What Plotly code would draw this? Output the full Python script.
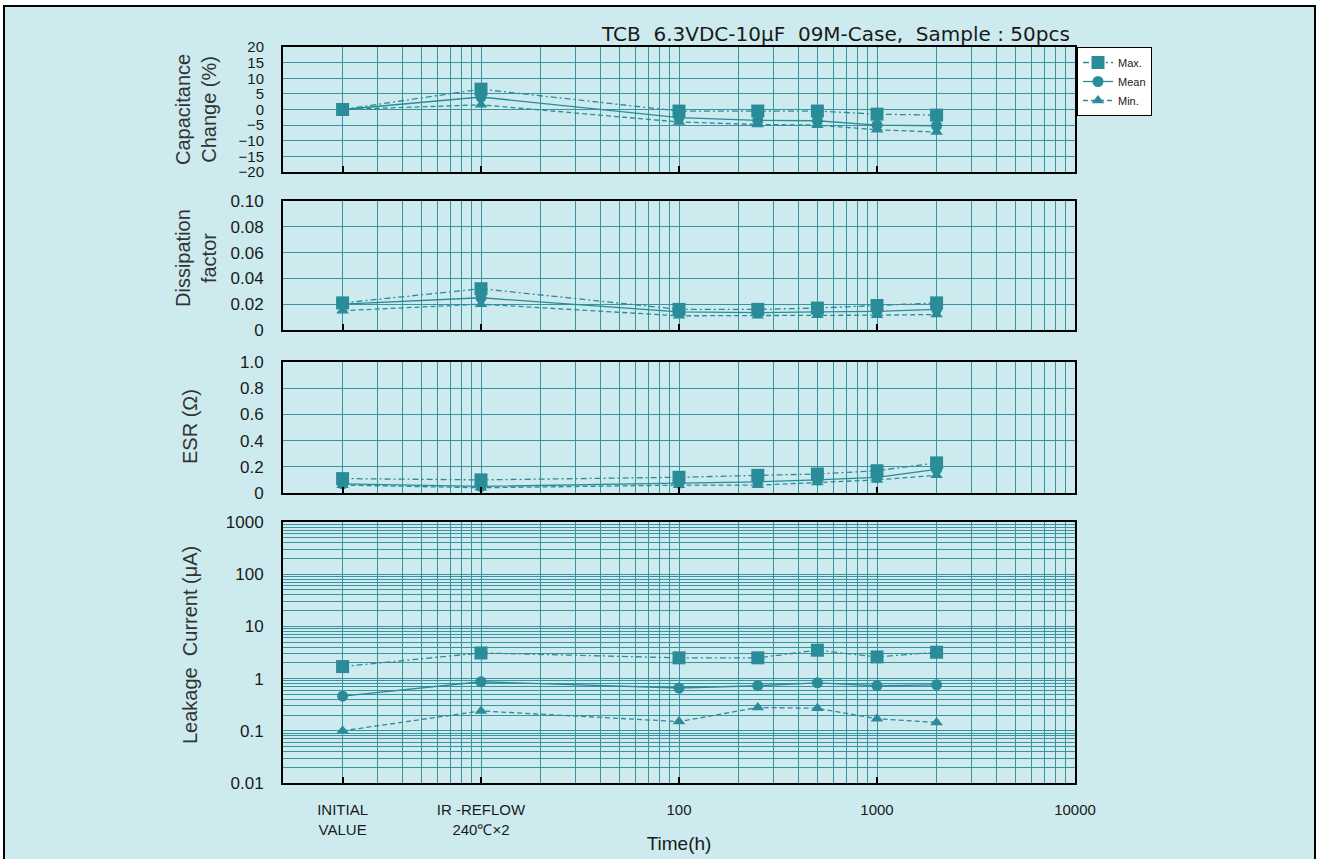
import plotly.graph_objects as go

W, H = 1326, 859

# Measurement points (time axis is logarithmic; the first two are fixed steps)
x_pos = [2, 10, 100, 250, 500, 1000, 2000]

# Capacitance change (%)
cap_max = [0.0, 6.5, -0.5, -0.5, -0.5, -1.5, -1.8]
cap_mean = [0.0, 4.0, -2.6, -3.5, -3.6, -5.0, -5.2]
cap_min = [0.0, 1.5, -4.0, -4.8, -5.0, -6.5, -7.2]

# Dissipation factor
df_max = [0.021, 0.032, 0.016, 0.016, 0.017, 0.019, 0.021]
df_mean = [0.020, 0.025, 0.014, 0.0135, 0.014, 0.0145, 0.016]
df_min = [0.015, 0.020, 0.011, 0.011, 0.0115, 0.0115, 0.012]

# ESR (ohm)
esr_max = [0.11, 0.10, 0.12, 0.135, 0.145, 0.17, 0.23]
esr_mean = [0.07, 0.05, 0.075, 0.085, 0.10, 0.12, 0.18]
esr_min = [0.06, 0.04, 0.06, 0.06, 0.08, 0.10, 0.135]

# Leakage current (uA)
lc_max = [1.7, 3.1, 2.5, 2.5, 3.5, 2.6, 3.2]
lc_mean = [0.46, 0.87, 0.66, 0.73, 0.83, 0.73, 0.76]
lc_min = [0.10, 0.24, 0.15, 0.28, 0.27, 0.17, 0.145]

# Time axis labels
x_tickvals = [2, 10, 100, 1000, 10000]
x_ticktext = ["INITIAL<br>VALUE", "IR -REFLOW<br>240℃×2", "100", "1000", "10000"]

series_names = ["Max.", "Mean", "Min."]

TEAL = "#2a8c98"
GRID = "#3a949f"
BG = "#cdebef"

x_minor = [m * 10 ** e for e in range(0, 4) for m in range(2, 10)]
y_minor_log = [m * 10 ** e for e in range(-2, 3) for m in range(2, 10)]

styles = [
    dict(dash="6px,3px,2px,3px", symbol="square", size=13),
    dict(dash="solid", symbol="circle", size=11),
    dict(dash="5px,3px", symbol="triangle-up", size=11),
]

panels = [
    (cap_max, cap_mean, cap_min),
    (df_max, df_mean, df_min),
    (esr_max, esr_mean, esr_min),
    (lc_max, lc_mean, lc_min),
]

fig = go.Figure()
for p, data in enumerate(panels):
    for s, (name, vals) in enumerate(zip(series_names, data)):
        st = styles[s]
        fig.add_trace(go.Scatter(
            x=x_pos, y=vals, name=name, mode="lines+markers",
            xaxis="x" if p == 0 else f"x{p+1}",
            yaxis="y" if p == 0 else f"y{p+1}",
            line=dict(color=TEAL, width=1.3, dash=st["dash"]),
            marker=dict(color=TEAL, symbol=st["symbol"], size=st["size"]),
            legendgroup=name, showlegend=(p == 0),
        ))


def fx(px):
    return px / W


def fy(py):
    return 1 - py / H


def ydom(top, bot):
    return [fy(bot), fy(top)]


xdom = [fx(283), fx(1075)]
ydoms = [ydom(47, 172), ydom(201, 330), ydom(362, 493), ydom(522, 783)]

tick_font = dict(family="Liberation Sans, Arial, sans-serif", size=17, color="#1a1a1a")
cap_tick_font = dict(family="Liberation Sans, Arial, sans-serif", size=15, color="#1a1a1a")
x_font = dict(family="Liberation Sans Narrow, Arial Narrow, Liberation Sans, sans-serif",
              size=15, color="#1a1a1a")

y_specs = [
    dict(type="linear", range=[-20, 20], tickvals=list(range(-20, 21, 5)),
         ticktext=[str(v).replace("-", "−") for v in range(-20, 21, 5)]),
    dict(type="linear", range=[0, 0.1], tickvals=[0, 0.02, 0.04, 0.06, 0.08, 0.10],
         ticktext=["0", "0.02", "0.04", "0.06", "0.08", "0.10"]),
    dict(type="linear", range=[0, 1.0], tickvals=[0, 0.2, 0.4, 0.6, 0.8, 1.0],
         ticktext=["0", "0.2", "0.4", "0.6", "0.8", "1.0"]),
    dict(type="log", range=[-2, 3], tickvals=[0.01, 0.1, 1, 10, 100, 1000],
         ticktext=["0.01", "0.1", "1", "10", "100", "1000"]),
]

layout = dict(
    width=W, height=H,
    margin=dict(l=0, r=0, t=0, b=0, autoexpand=False),
    paper_bgcolor="white",
    plot_bgcolor="white",
    showlegend=True,
    legend=dict(x=fx(1077), y=fy(47), xanchor="left", yanchor="top",
                bgcolor="white", bordercolor="black", borderwidth=1,
                font=dict(family="Liberation Sans, Arial, sans-serif", size=11, color="#1a1a1a"),
                tracegroupgap=0, itemwidth=30),
)

for p in range(4):
    xk = "xaxis" if p == 0 else f"xaxis{p+1}"
    yk = "yaxis" if p == 0 else f"yaxis{p+1}"
    xa = "x" if p == 0 else f"x{p+1}"
    ya = "y" if p == 0 else f"y{p+1}"
    layout[xk] = dict(
        type="log", range=[0, 4], domain=xdom, anchor=ya, automargin=False,
        tickvals=x_tickvals, ticktext=x_ticktext,
        showticklabels=(p == 3), tickfont=x_font, ticklabelstandoff=12,
        ticks="inside", ticklen=6, tickcolor="black", tickwidth=2,
        showgrid=True, gridcolor=GRID, gridwidth=1.3,
        minor=dict(tickvals=x_minor, showgrid=True, gridcolor=GRID, gridwidth=1.3, ticks=""),
        showline=True, linecolor="black", linewidth=2, mirror=True,
        zeroline=False,
    )
    ys = y_specs[p]
    yax = dict(
        type=ys["type"], range=ys["range"], domain=ydoms[p], anchor=xa, automargin=False,
        tickvals=ys["tickvals"], ticktext=ys["ticktext"],
        tickfont=cap_tick_font if p == 0 else tick_font,
        ticks="", ticklabelstandoff=14,
        showgrid=True, gridcolor=GRID, gridwidth=1.3,
        showline=True, linecolor="black", linewidth=2, mirror=True,
        zeroline=False,
    )
    if ys["type"] == "log":
        yax["minor"] = dict(tickvals=y_minor_log, showgrid=True, gridcolor=GRID,
                            gridwidth=1.3, ticks="")
    layout[yk] = yax

layout["xaxis4"]["title"] = dict(text="Time(h)", standoff=0,
                                 font=dict(family="Liberation Sans Narrow, Arial Narrow, Liberation Sans, sans-serif",
                                           size=19, color="#1a1a1a"))

fig.update_layout(**layout)

# Framed light-cyan panel behind the charts
fig.add_shape(type="rect", xref="paper", yref="paper",
              x0=fx(4), x1=fx(1315), y0=-0.02, y1=fy(6),
              fillcolor=BG, line=dict(color="black", width=2), layer="below")

title_font = dict(family="Liberation Sans, Arial, sans-serif", size=20, color="#333333")
ytitles = [
    ("Capacitance<br>Change (%)", 196, 110),
    ("Dissipation<br>factor", 196, 258),
    ("ESR (Ω)", 190, 427),
    ("Leakage  Current (μA)", 190, 645),
]
for text, px, py in ytitles:
    fig.add_annotation(text=text, x=fx(px), y=fy(py), xref="paper", yref="paper",
                       textangle=-90, showarrow=False, font=title_font,
                       xanchor="center", yanchor="middle")

fig.add_annotation(text="TCB  6.3VDC-10μF  09M-Case,  Sample : 50pcs",
                   x=fx(1072), y=fy(34), xref="paper", yref="paper",
                   xanchor="right", yanchor="middle", showarrow=False,
                   font=dict(family="DejaVu Sans, sans-serif", size=20, color="#1a1a1a"))

fig.write_html("out.html")
